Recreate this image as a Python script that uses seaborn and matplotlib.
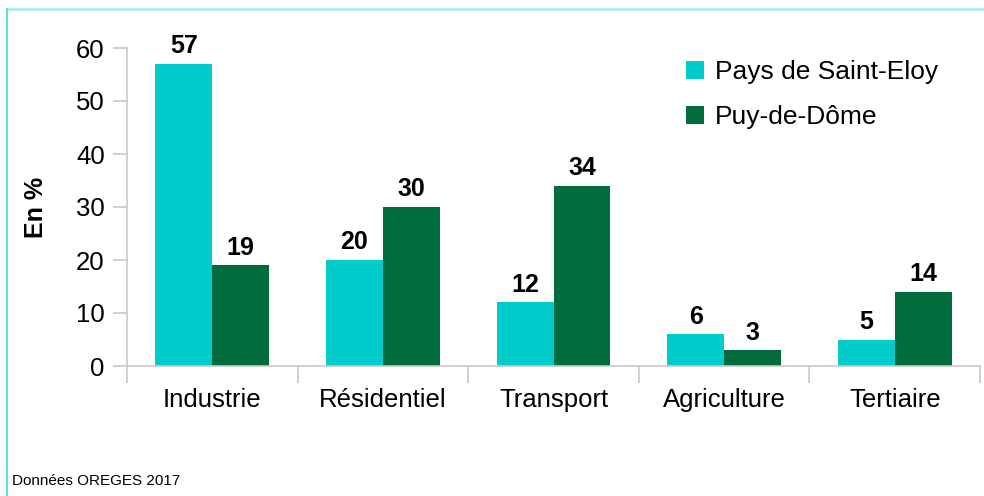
import numpy as np
import pandas as pd
import matplotlib
matplotlib.use("Agg")
import matplotlib.pyplot as plt
from matplotlib.lines import Line2D
from matplotlib.patches import Patch
import seaborn as sns

categories = ["Industrie", "Résidentiel", "Transport", "Agriculture", "Tertiaire"]
series_names = ["Pays de Saint-Eloy", "Puy-de-Dôme"]
saint_eloy = [57, 20, 12, 6, 5]
puy_de_dome = [19, 30, 34, 3, 14]
colors = ["#00CCCC", "#006B3C"]

df = pd.DataFrame({
    "secteur": categories * 2,
    "zone": [series_names[0]] * len(categories) + [series_names[1]] * len(categories),
    "valeur": saint_eloy + puy_de_dome,
})

sns.set_style("white")
plt.rcParams["font.family"] = ["Liberation Sans", "DejaVu Sans"]
plt.rcParams["text.color"] = "black"
plt.rcParams["xtick.labelcolor"] = "black"
plt.rcParams["ytick.labelcolor"] = "black"
plt.rcParams["axes.labelcolor"] = "black"

fig = plt.figure(figsize=(9.84, 4.96), dpi=100)
ax = fig.add_axes([127 / 984, 1 - 366 / 496, 853 / 984, 318 / 496])

sns.barplot(data=df, x="secteur", y="valeur", hue="zone", palette=colors,
            width=0.668, saturation=1, linewidth=0, ax=ax, legend=False,
            errorbar=None)

# étiquettes de valeur
for cont in ax.containers:
    ax.bar_label(cont, fmt="%d", fontsize=18, fontweight="bold", padding=4)

ax.set_ylim(0, 60)
ax.set_xlim(-0.5, 4.5)
ax.set_yticks(range(0, 61, 10))
ax.set_xlabel("")
ax.set_ylabel("En %", fontsize=18, fontweight="bold")
ax.yaxis.set_label_coords(-0.093, 0.5)

grey = "#c8c8c8"
for side in ["top", "right"]:
    ax.spines[side].set_visible(False)
for side in ["left", "bottom"]:
    ax.spines[side].set_color(grey)
    ax.spines[side].set_linewidth(1.2)

ax.tick_params(axis="y", length=10, width=1.2, color=grey, labelsize=18.5, pad=6, left=True)
ax.tick_params(axis="x", which="major", length=0, labelsize=18.5, pad=16)
ax.set_xticks(np.arange(-0.5, 4.6, 1), minor=True)
ax.tick_params(axis="x", which="minor", length=12, width=1.2, color=grey, bottom=True)

handles = [Patch(facecolor=c, edgecolor="none") for c in colors]
ax.legend(handles, series_names, loc="upper left", bbox_to_anchor=(0.627, 1.037),
          frameon=False, fontsize=19, handlelength=0.7, handleheight=0.7,
          handletextpad=0.4, labelspacing=0.8)

fig.text(12 / 984, 1 - 481 / 496, "Données OREGES 2017", fontsize=11, va="center", ha="left")

# cadre
fig.add_artist(Line2D([6.5 / 984, 1], [1 - 8.5 / 496] * 2, color="#b3ebeb", lw=2,
                      transform=fig.transFigure))
fig.add_artist(Line2D([6.5 / 984] * 2, [0, 1 - 8.5 / 496], color="#66d9d9", lw=1.5,
                      transform=fig.transFigure))

fig.savefig("out.png", dpi=100)
